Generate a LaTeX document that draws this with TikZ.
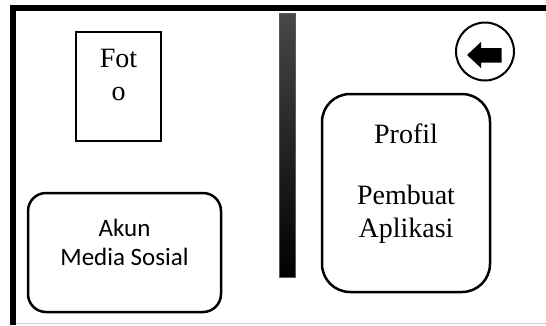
\documentclass[tikz,border=0pt]{standalone}
\usepackage{fontspec}
\setmainfont{Liberation Serif}
\newfontfamily\calib{Carlito}
\begin{document}
\begin{tikzpicture}[x=1pt,y=-1pt,
  serif/.style={font=\fontsize{28}{33}\selectfont, inner sep=0pt, anchor=base},
  sans/.style={font=\calib\fontsize{25}{29}\selectfont, inner sep=0pt, anchor=base},
  rbox/.style={draw=black, line width=2.5pt, inner sep=0pt},
  framebox/.style={line width=6pt, line join=miter}]
\useasboundingbox (0,0) rectangle (546,325);
\fill[white] (0,0) rectangle (546,325);
% outer frame
\draw[framebox] (13,325) -- (13,7.8) -- (546,7.8);
\draw[black!18, line width=1.3pt] (16,323.3) -- (546,323.3);
% photo box
\node[draw=black, line width=2pt, minimum width=85pt, minimum height=109pt, inner sep=0pt] (foto) at (118.5,86) {};
\node[serif] (fot1) at (118.5,67) {Fot};
\node[serif] (fot2) at (118.5,100.5) {o};
% social media box
\node[rbox, rounded corners=18pt, minimum width=193pt, minimum height=119pt] (akun) at (124.5,252.5) {};
\node[sans] (akun1) at (124.5,236) {Akun};
\node[sans] (akun2) at (124.5,265) {Media Sosial};
% divider bar
\node[draw=black!65, line width=0.6pt, top color=black!72, middle color=black, bottom color=black,
      minimum width=16pt, minimum height=264pt, inner sep=0pt] (bar) at (287,145) {};
% profile box
\node[rbox, rounded corners=28pt, minimum width=168pt, minimum height=198pt] (profil) at (406,193) {};
\node[serif] (prof1) at (406,143) {Profil};
\node[serif] (prof2) at (406,204) {Pembuat};
\node[serif] (prof3) at (406,237) {Aplikasi};
% back button
\node[draw=black, line width=2pt, circle, minimum size=58pt, inner sep=0pt] (back) at (485,51.5) {};
\fill[black] (467,55) -- (481,42) -- (481,48) -- (501.5,48) -- (501.5,62.5) -- (481,62.5) -- (481,68) -- cycle;
\end{tikzpicture}
\end{document}
